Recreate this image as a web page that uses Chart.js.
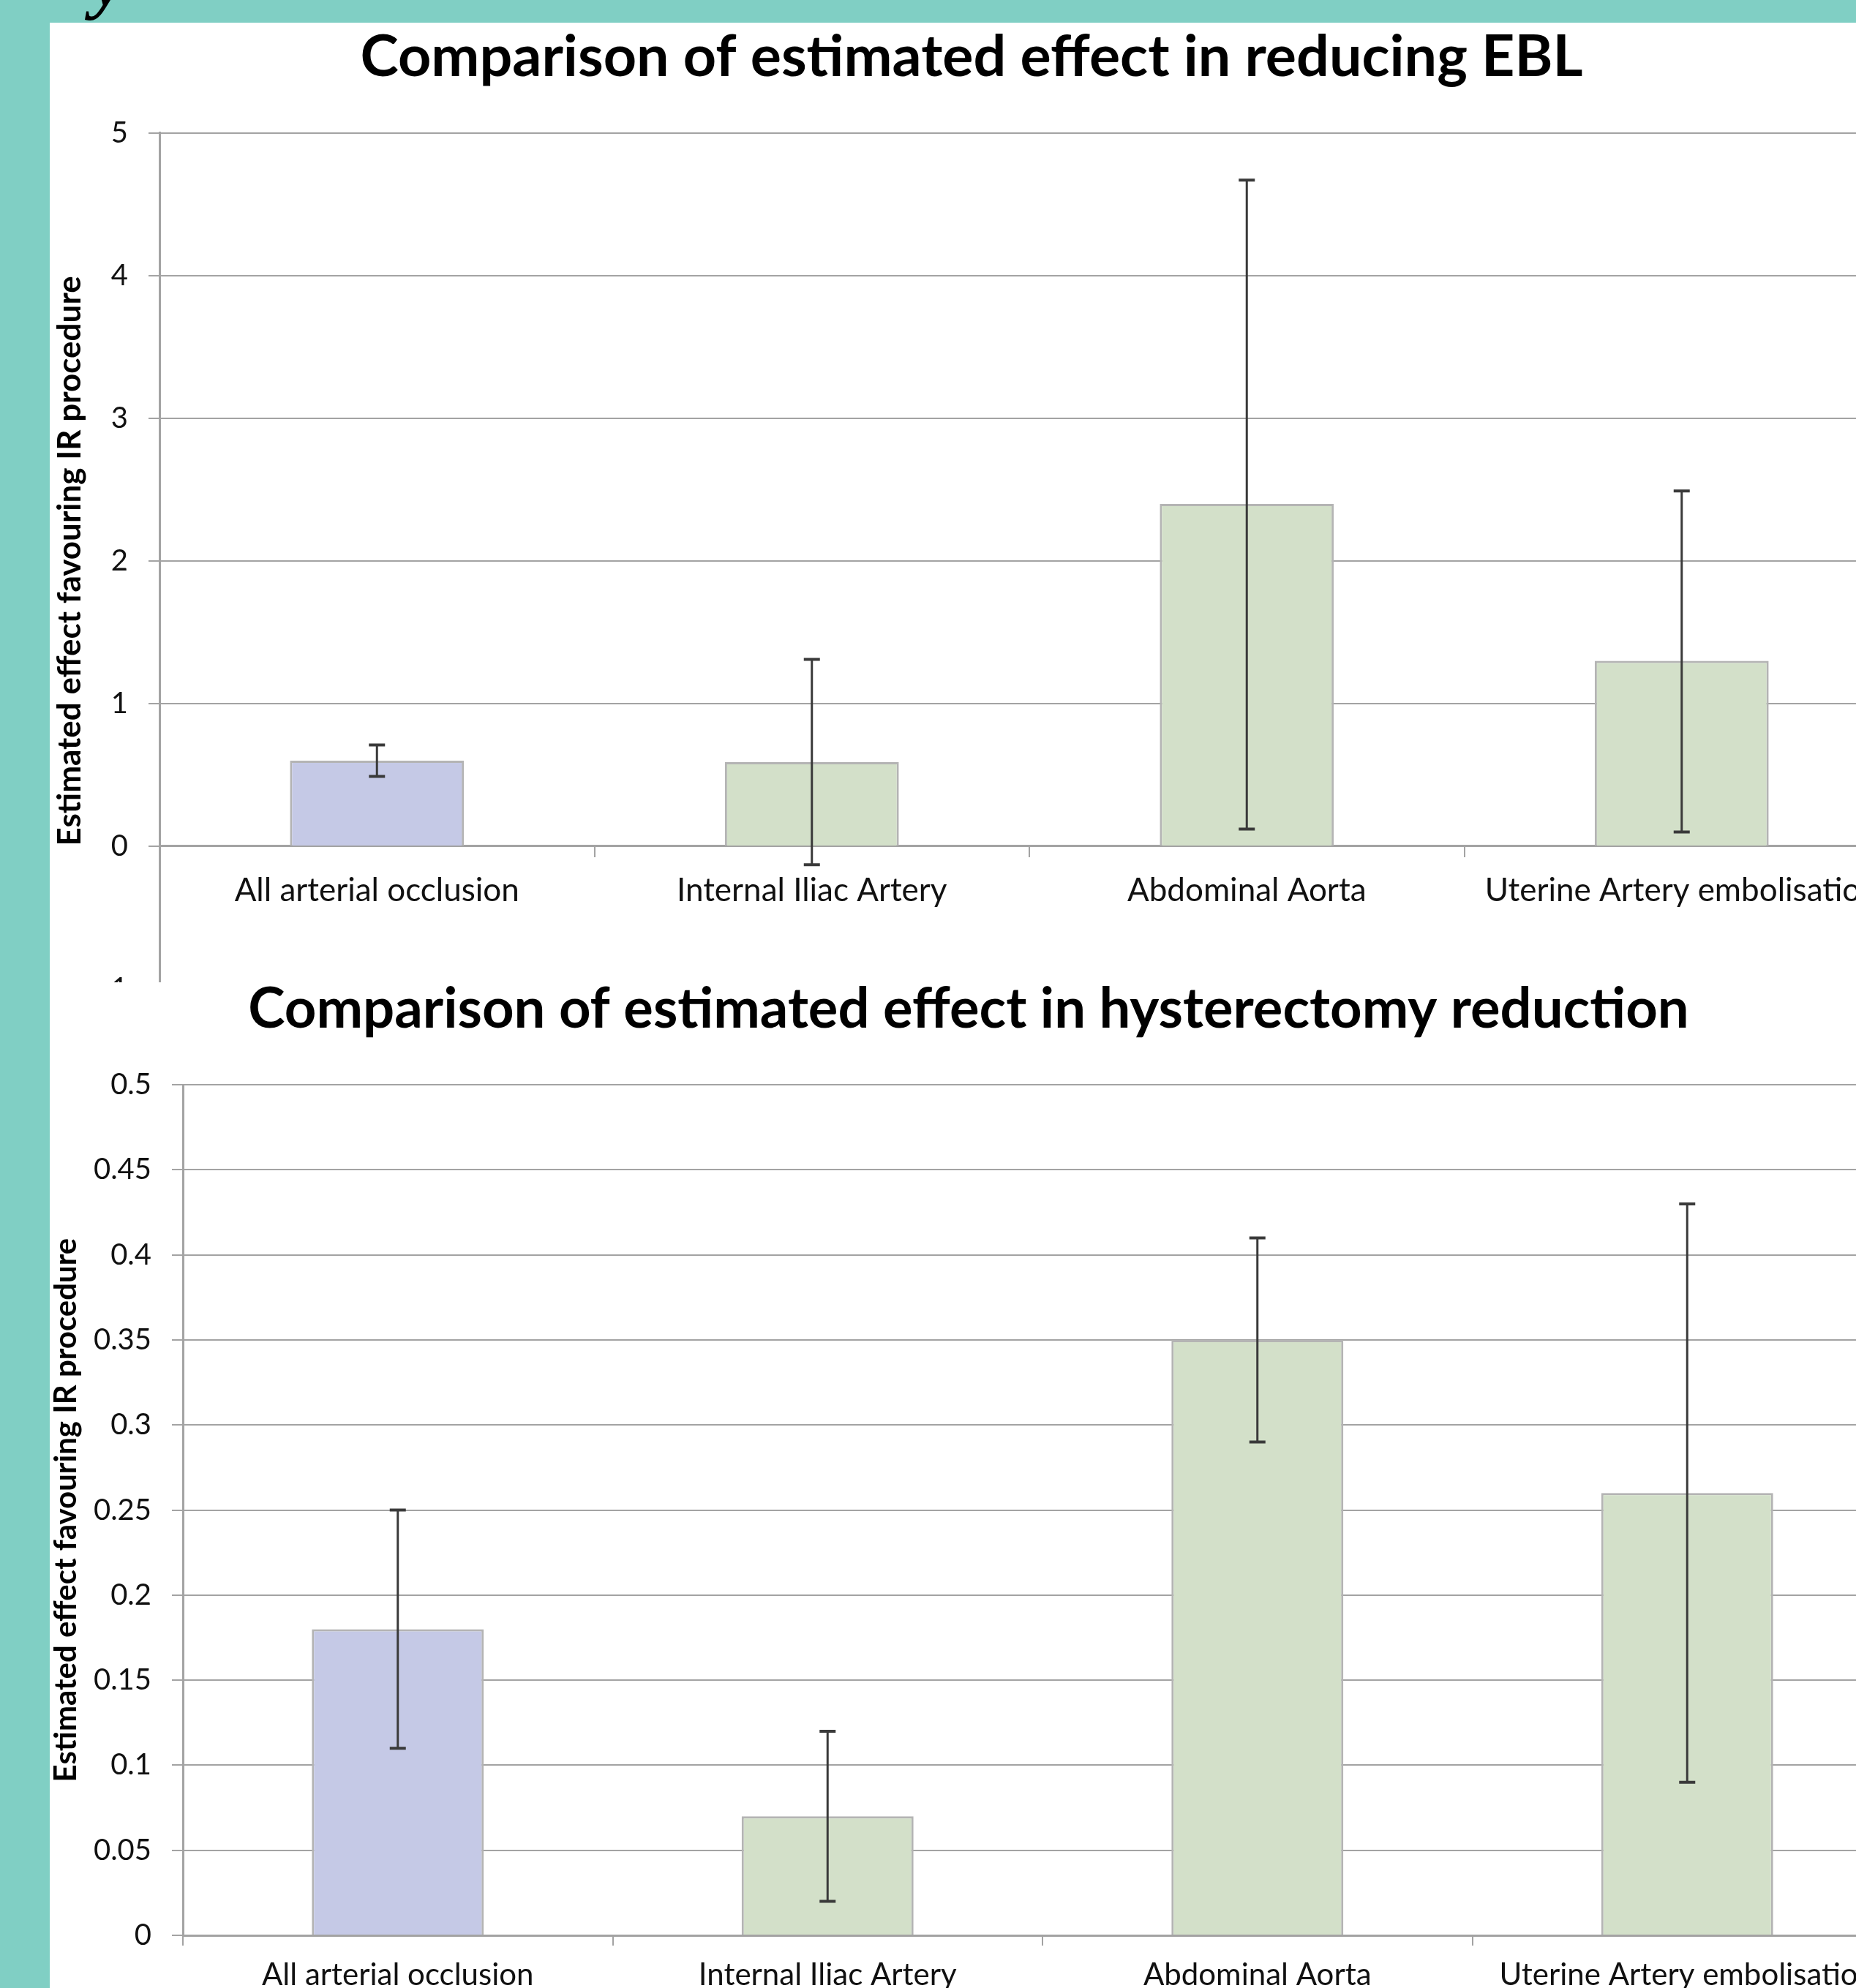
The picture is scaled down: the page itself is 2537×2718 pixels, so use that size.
<!DOCTYPE html>
<html>
<head>
<meta charset="utf-8">
<script src="https://cdn.jsdelivr.net/npm/chart.js@4.4.1/dist/chart.umd.min.js"></script>
<style>
    html, body { margin: 0; padding: 0; overflow: hidden; }
    body { width: 2537px; height: 2718px; position: relative; background: #80cfc4; }
    .panel { position: absolute; left: 68px; background: #fff; }
    #topPanel { top: 31px; }
    #bottomPanel { top: 1343px; }
    .slideTitle { position: absolute; left: 126px; top: -76px; font: italic bold 100px "Liberation Serif", serif; line-height: 1; color: #000; }
</style>
</head>
<body>
<div class="slideTitle">y</div>
<div class="panel" id="topPanel"><canvas id="eblChart" width="2528" height="1373"></canvas></div>
<div class="panel" id="bottomPanel"><canvas id="hystChart" width="2532" height="1423"></canvas></div>
<script>
const categories = ['All arterial occlusion', 'Internal Iliac Artery', 'Abdominal Aorta', 'Uterine Artery embolisation'];

const eblEffect = [0.6, 0.59, 2.4, 1.3];
const eblLow = [0.49, -0.13, 0.12, 0.1];
const eblHigh = [0.71, 1.31, 4.67, 2.49];
const eblTicks = [-1, 0, 1, 2, 3, 4, 5];

const hystEffect = [0.18, 0.07, 0.35, 0.26];
const hystLow = [0.11, 0.02, 0.29, 0.09];
const hystHigh = [0.25, 0.12, 0.41, 0.43];
const hystTicks = [0, 0.05, 0.1, 0.15, 0.2, 0.25, 0.3, 0.35, 0.4, 0.45, 0.5];

const FONT = 'Lato, "Open Sans", sans-serif';
const GRID = '#a3a3a3';
const barColors = ['#c5c9e6', '#d3e0c9', '#d3e0c9', '#d3e0c9'];
const yTitle = 'Estimated effect favouring IR procedure';

// Excel style error bars, drawn on top of the bars from the y scale
const errorBars = {
    id: 'errorBars',
    afterDatasetsDraw(chart) {
        const ctx = chart.ctx;
        const y = chart.scales.y;
        const ds = chart.data.datasets[0];
        ctx.save();
        ctx.strokeStyle = '#3a3a3a';
        chart.getDatasetMeta(0).data.forEach(function(bar, i) {
            const hi = y.getPixelForValue(ds.errHigh[i]);
            const lo = y.getPixelForValue(ds.errLow[i]);
            ctx.lineWidth = 3;
            ctx.beginPath();
            ctx.moveTo(bar.x, hi);
            ctx.lineTo(bar.x, lo);
            ctx.stroke();
            ctx.lineWidth = 4;
            ctx.beginPath();
            ctx.moveTo(bar.x - 11, hi);
            ctx.lineTo(bar.x + 11, hi);
            ctx.moveTo(bar.x - 11, lo);
            ctx.lineTo(bar.x + 11, lo);
            ctx.stroke();
        });
        ctx.restore();
    }
};

function createChart(id, cfg) {
    return new Chart(document.getElementById(id), {
        type: 'bar',
        data: {
            labels: categories,
            datasets: [{
                data: cfg.values,
                errLow: cfg.low,
                errHigh: cfg.high,
                backgroundColor: barColors,
                borderColor: '#b4b4b4',
                borderWidth: 3,
                barPercentage: 0.4,
                categoryPercentage: 1
            }]
        },
        options: {
            responsive: false,
            animation: false,
            devicePixelRatio: 1,
            // negative left padding keeps the title centred like the cropped original
            layout: { padding: { left: cfg.padLeft, right: 0, top: 0, bottom: 0 } },
            plugins: {
                legend: { display: false },
                tooltip: { enabled: false },
                title: {
                    display: true,
                    text: cfg.title,
                    color: '#000',
                    font: { family: FONT, size: cfg.titleFont, weight: 'bold', lineHeight: 1.2 },
                    padding: cfg.titlePadding
                }
            },
            scales: {
                x: {
                    position: cfg.xPosition,
                    grid: { drawOnChartArea: false, offset: true, color: GRID, lineWidth: 2, tickLength: 14 },
                    border: { color: GRID, width: 3 },
                    ticks: {
                        color: '#111',
                        font: { family: FONT, size: cfg.xFont, lineHeight: 1.2 },
                        padding: cfg.xPadding,
                        maxRotation: 0,
                        autoSkip: false
                    },
                    afterFit: function(scale) { scale.height = cfg.xHeight; }
                },
                y: {
                    min: cfg.ticks[0],
                    max: cfg.ticks[cfg.ticks.length - 1],
                    afterBuildTicks: function(scale) {
                        scale.ticks = cfg.ticks.map(function(v) { return { value: v }; });
                    },
                    ticks: {
                        color: '#111',
                        font: { family: FONT, size: 40 },
                        padding: 28,
                        callback: function(value) { return String(Math.round(value * 100) / 100); }
                    },
                    grid: { color: GRID, lineWidth: 2, tickLength: 15 },
                    border: { color: GRID, width: 3 },
                    title: {
                        display: true,
                        text: yTitle,
                        color: '#000',
                        font: { family: FONT, size: cfg.yTitleFont, weight: 'bold', lineHeight: 1.2 },
                        padding: { top: cfg.yTitleTop, bottom: 0 }
                    },
                    afterFit: function(scale) { scale.width = cfg.yWidth; }
                }
            }
        },
        plugins: [errorBars]
    });
}

document.addEventListener('DOMContentLoaded', function() {
    createChart('eblChart', {
        title: 'Comparison of estimated effect in reducing EBL',
        values: eblEffect,
        low: eblLow,
        high: eblHigh,
        ticks: eblTicks,
        padLeft: -8,
        titleFont: 79,
        titlePadding: { top: 0, bottom: 56 },
        xPosition: { y: 0 },
        xFont: 44,
        xPadding: 20,
        xHeight: 100,
        yTitleFont: 44,
        yTitleTop: 9,
        yWidth: 158
    });

    createChart('hystChart', {
        title: 'Comparison of estimated effect in hysterectomy reduction',
        values: hystEffect,
        low: hystLow,
        high: hystHigh,
        ticks: hystTicks,
        padLeft: -20,
        titleFont: 76,
        titlePadding: { top: -8, bottom: 57 },
        xPosition: 'bottom',
        xFont: 42,
        xPadding: 15,
        xHeight: 120,
        yTitleFont: 42,
        yTitleTop: 17,
        yWidth: 202
    });
});
</script>
</body>
</html>
